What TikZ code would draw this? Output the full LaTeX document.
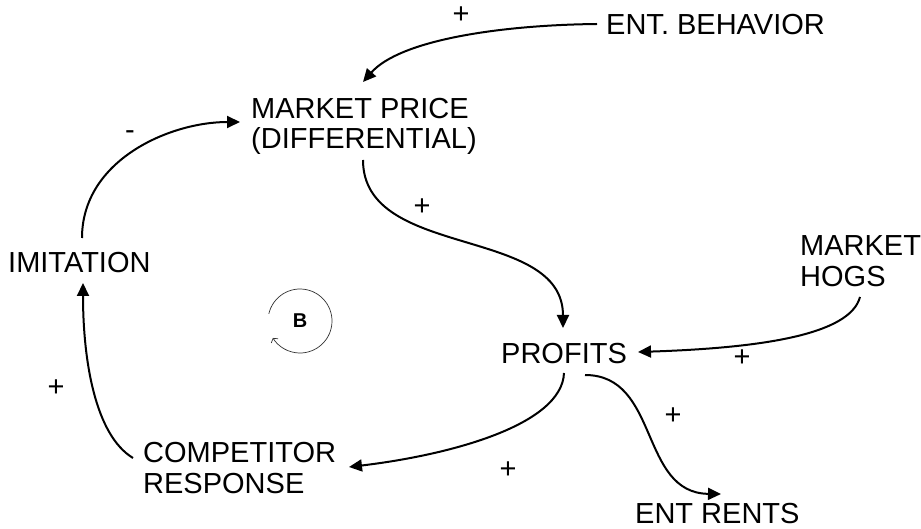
\documentclass[tikz,border=0pt]{standalone}
\usepackage{fontspec}
\setmainfont{Liberation Sans}
\usetikzlibrary{arrows.meta,calc}

\begin{document}
\begin{tikzpicture}[x=1pt,y=1pt,
  lbl/.style={anchor=north west,inner sep=0pt,align=left,
    font=\fontsize{29}{31}\selectfont},
  sgn/.style={inner sep=0pt,font=\fontsize{29}{30}\selectfont},
  conn/.style={line width=2pt,-{Triangle[length=13pt,width=12pt]}},
  loopline/.style={line width=0.7pt,draw=black!80,-{Straight Barb[length=3pt,width=8pt]}}]

\useasboundingbox (0,0) rectangle (921,-529);

% variables
\node[lbl] (eb) at (606,-14)  {ENT. BEHAVIOR};
\node[lbl,font=\fontsize{29}{30}\selectfont] (mp) at (251,-98) {MARKET PRICE\\(DIFFERENTIAL)};
\node[lbl] (im) at (8,-252)   {IMITATION};
\node[lbl] (mh) at (800,-235) {MARKET\\HOGS};
\node[lbl] (pr) at (501,-343) {PROFITS};
\node[lbl] (cr) at (143,-442) {COMPETITOR\\RESPONSE};
\node[lbl] (er) at (635,-503) {ENT RENTS};

% causal links
\draw[conn] ($(eb.north west)+(-9,-10)$) .. controls +(-97,-1) and +(37,42) .. ($(mp.north west)+(112,16)$);
\draw[conn] ($(mp.north west)+(112,-62)$) .. controls +(0,-100) and +(0,103) .. ($(pr.north west)+(62,15)$);
\draw[conn] ($(im.north west)+(74,14)$) .. controls +(0,78) and +(-70,0) .. ($(mp.north west)+(-11,-24)$);
\draw[conn] ($(cr.north west)+(-10,-16)$) .. controls +(-38,23) and +(0,-77) .. ($(im.north west)+(75,-31)$);
\draw[conn] ($(pr.north west)+(63,-30)$) .. controls +(-2,-52) and +(101,12) .. ($(cr.north west)+(206,-25)$);
\draw[conn] ($(pr.north west)+(84,-32)$) .. controls +(75,0) and +(-82,1) .. ($(er.north west)+(86,9)$);
\draw[conn] ($(mh.north west)+(60,-62)$) .. controls +(-10,-38) and +(122,4) .. ($(pr.north west)+(137,-9)$);

% polarities
\node[sgn] (s1) at (461,-15)  {+};
\node[sgn] (s2) at (130,-135) {-};
\node[sgn] (s3) at (422,-207) {+};
\node[sgn] (s4) at (56,-388)  {+};
\node[sgn] (s5) at (508,-470) {+};
\node[sgn] (s6) at (673,-416) {+};
\node[sgn] (s7) at (742,-358) {+};

% balancing loop marker
\node[inner sep=0pt,font=\fontsize{20}{20}\selectfont\bfseries] (loop) at (300,-321) {B};
\draw[loopline] (loop.center) ++(167:32) arc[start angle=167,end angle=-148,radius=32];

\end{tikzpicture}
\end{document}
